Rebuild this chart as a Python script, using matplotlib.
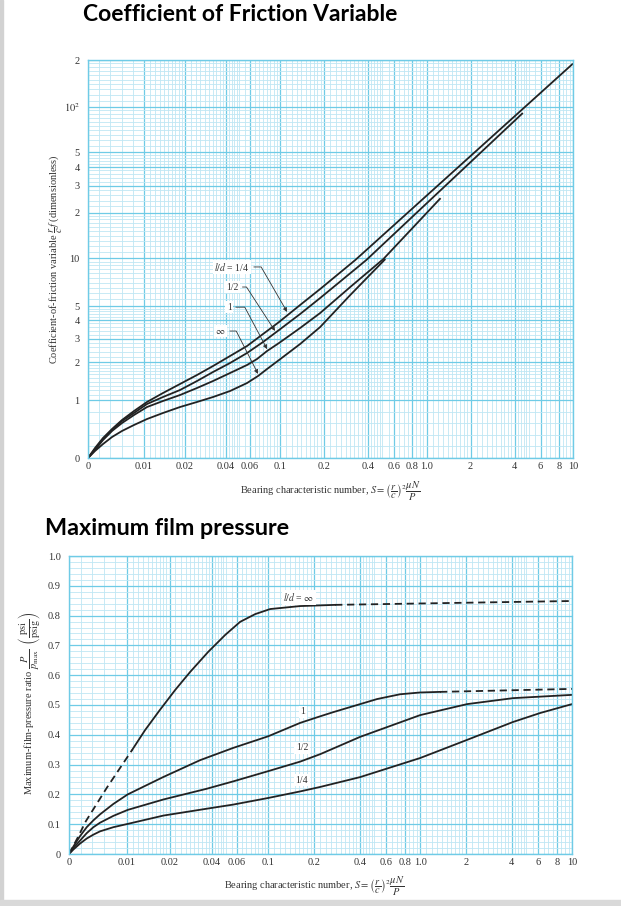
import numpy as np
import matplotlib.pyplot as plt
from matplotlib.patches import Rectangle

plt.rcParams['font.family'] = ['Liberation Serif', 'DejaVu Serif']
plt.rcParams['mathtext.fontset'] = 'stix'

# ---------------- friction chart: (r/c) f against S ----------------
s_q = [0, 0.00125, 0.00268, 0.00429, 0.00607, 0.00821, 0.01052, 0.01379, 0.01839, 0.02453, 0.03217,
       0.0429, 0.0572, 0.07499, 0.09831, 0.1371, 0.1879, 0.3264, 10]
f_q = [0, 0.172, 0.345, 0.5, 0.655, 0.81, 0.966, 1.136, 1.339, 1.578, 1.859,
       2.223, 2.652, 3.236, 3.88, 5.074, 6.392, 9.716, 189.7]

s_h = [0, 0.00125, 0.00268, 0.00429, 0.00607, 0.00821, 0.01052, 0.01379, 0.01839, 0.02453, 0.03217,
       0.0429, 0.0572, 0.07499, 0.09831, 0.1371, 0.1879, 0.2701, 0.3882, 4.545]
f_h = [0, 0.155, 0.328, 0.483, 0.638, 0.776, 0.931, 1.056, 1.2, 1.414, 1.667,
       1.964, 2.344, 2.846, 3.439, 4.401, 5.613, 7.384, 9.716, 91.26]

s_1 = [0, 0.00125, 0.00268, 0.00429, 0.00607, 0.00821, 0.01052, 0.01379, 0.01839, 0.02453, 0.03217,
       0.0429, 0.0572, 0.06774, 0.08025, 0.09831, 0.1371, 0.1879, 0.3016, 0.5076, 1.247]
f_1 = [0, 0.138, 0.31, 0.466, 0.603, 0.741, 0.879, 0.983, 1.095, 1.245, 1.414,
       1.636, 1.894, 2.109, 2.428, 2.796, 3.544, 4.472, 6.579, 9.857, 24.9]

s_inf = [0, 0.00125, 0.00268, 0.00429, 0.00607, 0.00821, 0.01052, 0.01379, 0.01839, 0.02453, 0.03217,
         0.0429, 0.0572, 0.06888, 0.08025, 0.09831, 0.1371, 0.1879, 0.3016, 0.5238]
f_inf = [0, 0.121, 0.241, 0.362, 0.466, 0.569, 0.672, 0.776, 0.879, 0.966, 1.056,
         1.178, 1.363, 1.549, 1.76, 2.072, 2.747, 3.597, 5.861, 9.857]

# ---------------- max film pressure chart: P/pmax against S ----------------
p_inf_lo_s = [0, 0.0015, 0.0029, 0.0065, 0.01085]
p_inf_lo = [0, 0.055, 0.11, 0.222, 0.349]
p_inf_s = [0.01085, 0.01342, 0.01687, 0.02188, 0.02799, 0.03752, 0.04955, 0.06324, 0.0809, 0.1031, 0.1624, 0.276]
p_inf = [0.349, 0.416, 0.480, 0.550, 0.611, 0.678, 0.735, 0.779, 0.805, 0.822, 0.832, 0.836]
p_inf_hi_s = [0.276, 10]
p_inf_hi = [0.836, 0.849]

p1_s = [0, 0.00075, 0.0019, 0.00305, 0.0042, 0.00534, 0.00764, 0.0101, 0.01799, 0.03296, 0.0565, 0.1,
        0.1624, 0.2198, 0.268, 0.3853, 0.5215, 0.738, 1.0, 1.354]
p1 = [0, 0.025, 0.06, 0.09, 0.113, 0.133, 0.168, 0.2, 0.258, 0.315, 0.356, 0.395,
      0.440, 0.462, 0.476, 0.50, 0.520, 0.536, 0.542, 0.544]
p1_hi_s = [1.354, 10]
p1_hi = [0.544, 0.554]

ph_s = [0, 0.00075, 0.0019, 0.00305, 0.0042, 0.00534, 0.00764, 0.0101, 0.0181, 0.0367, 0.0568, 0.1,
        0.1624, 0.22, 0.4027, 1.0, 2.04, 4.09, 10]
ph = [0, 0.02, 0.045, 0.07, 0.09, 0.105, 0.128, 0.148, 0.183, 0.219, 0.244, 0.278,
      0.31, 0.335, 0.393, 0.466, 0.503, 0.523, 0.534]

pq_s = [0, 0.00075, 0.0019, 0.00305, 0.0042, 0.00534, 0.00764, 0.0101, 0.0181, 0.0367, 0.0568, 0.1,
        0.1624, 0.22, 0.4027, 1.0, 2.04, 4.09, 6.16, 10]
pq = [0, 0.015, 0.035, 0.052, 0.065, 0.076, 0.09, 0.101, 0.129, 0.152, 0.166, 0.188,
      0.21, 0.225, 0.258, 0.322, 0.383, 0.443, 0.473, 0.503]

x_ticks = [0, 0.01, 0.02, 0.04, 0.06, 0.1, 0.2, 0.4, 0.6, 0.8, 1.0, 2, 4, 6, 8, 10]
x_labels = ['0', '0.01', '0.02', '0.04', '0.06', '0.1', '0.2', '0.4', '0.6', '0.8', '1.0', '2', '4', '6', '8', '10']
fy_ticks = [0, 1, 2, 3, 4, 5, 10, 20, 30, 40, 50, 100, 200]
fy_labels = ['0', '1', '2', '3', '4', '5', '10', '2', '3', '4', '5', '$10^2$', '2']
py_ticks = [0, 0.1, 0.2, 0.3, 0.4, 0.5, 0.6, 0.7, 0.8, 0.9, 1.0]
py_labels = ['0', '0.1', '0.2', '0.3', '0.4', '0.5', '0.6', '0.7', '0.8', '0.9', '1.0']

GRID = '#6fcbe6'
GRID_MINOR = '#bfe7f4'
INK = '#222222'
TXT = '#333333'


def paper_scale(knot_v, knot_u):
    # linear from 0 up to the first knot, log-interpolated between knots
    lv = np.log10(knot_v)

    def fwd(v):
        v = np.asarray(v, float)
        lo = v / knot_v[0] * knot_u[0]
        hi = np.interp(np.log10(np.maximum(v, 1e-12)), lv, knot_u)
        return np.where(v < knot_v[0], lo, hi)

    def inv(u):
        u = np.asarray(u, float)
        lo = u / knot_u[0] * knot_v[0]
        hi = 10 ** np.interp(u, knot_u, lv)
        return np.where(u < knot_u[0], lo, hi)
    return fwd, inv


x_fun = paper_scale([0.01, 0.1, 1, 10, 1000], [0.1155, 0.396, 0.698, 1.0, 1.604])
y_fun = paper_scale([1, 2, 3, 4, 5, 10, 100, 200, 20000],
                    np.array([58, 96, 119, 138, 152, 200, 351, 398, 955]) / 398)


def log_minor(decades, majors, top=None):
    mult = np.concatenate([np.arange(1.1, 1.95, 0.1), np.arange(2, 4.9, 0.2), np.arange(5, 9.9, 0.5)])
    out = []
    for k in decades:
        for m in mult:
            v = m * 10.0 ** k
            if top is not None and v > top + 1e-9:
                continue
            if not np.any(np.isclose(v, majors)):
                out.append(v)
    return out


x_minor = [0.002, 0.004, 0.006, 0.008] + log_minor([-2, -1, 0], x_ticks)
fy_minor = [0.2, 0.4, 0.6, 0.8] + log_minor([0, 1, 2], fy_ticks, top=200)
py_minor = [v for v in np.arange(0.02, 1.0, 0.02) if not np.any(np.isclose(v, py_ticks))]


def style_axes(ax, yt, yl, ym):
    ax.set_xscale('function', functions=x_fun)
    ax.set_xlim(0, 10)
    ax.set_xticks(x_ticks)
    ax.set_xticklabels(x_labels)
    ax.set_xticks(x_minor, minor=True)
    ax.set_yticks(yt)
    ax.set_yticklabels(yl)
    ax.set_yticks(ym, minor=True)
    ax.grid(which='major', color=GRID, lw=0.9)
    ax.grid(which='minor', color=GRID_MINOR, lw=0.6)
    ax.set_axisbelow(True)
    ax.tick_params(which='both', length=0, labelsize=7.5, colors=TXT)
    ax.tick_params(axis='x', pad=3)
    ax.tick_params(axis='y', pad=6)
    for sp in ax.spines.values():
        sp.set_color(GRID)
        sp.set_linewidth(1.0)


fig = plt.figure(figsize=(6.21, 9.06), dpi=100)
fig.patches.append(Rectangle((0, 0), 3 / 621, 1, transform=fig.transFigure, color='#d2d2d2', zorder=-1))
fig.patches.append(Rectangle((0, 0), 1, 6 / 906, transform=fig.transFigure, color='#d9d9d9', zorder=-1))

fig.text(83 / 621, 1 - 21 / 906, 'Coefficient of Friction Variable', ha='left', va='baseline',
         fontsize=16.5, fontweight='bold', family=['Lato', 'DejaVu Sans'])
fig.text(45 / 621, 1 - 535 / 906, 'Maximum film pressure', ha='left', va='baseline',
         fontsize=16.8, fontweight='bold', family=['Lato', 'DejaVu Sans'])

# ---- top chart ----
ax1 = fig.add_axes([88 / 621, 1 - 458 / 906, 485 / 621, 398 / 906])
ax1.set_yscale('function', functions=y_fun)
ax1.set_ylim(0, 200)
style_axes(ax1, fy_ticks, fy_labels, fy_minor)

for s, f in [(s_q, f_q), (s_h, f_h), (s_1, f_1), (s_inf, f_inf)]:
    ax1.plot(s, f, color=INK, lw=1.3, solid_capstyle='butt')

xlab = r'Bearing characteristic number, $S = \left(\dfrac{r}{c}\right)^2\dfrac{\mu N}{P}$'
ax1.set_xlabel(xlab, fontsize=7.5, color=TXT)
ax1.xaxis.set_label_coords(0.499, -0.055)
ax1.set_ylabel(r'Coefficient-of-friction variable $\dfrac{r}{c}f$ (dimensionless)', fontsize=7.5, color=TXT)
ax1.yaxis.set_label_coords(-0.048, 0.5)

notes = [(r'$l/d$ = 1/4', (0.1117, 4.55), (0.297, 0.480), 120),
         ('1/2', (0.0918, 3.39), (0.297, 0.4296), 123),
         ('1', (0.0803, 2.51), (0.291, 0.379), 118),
         (r'$\infty$', (0.0689, 1.61), (0.273, 0.319), 117)]
for txt, tip, pos, ang in notes:
    ax1.annotate(txt, xy=tip, xycoords='data', xytext=pos, textcoords='axes fraction',
                 ha='center', va='center', fontsize=7, color=TXT,
                 bbox=dict(boxstyle='square,pad=0.15', fc='white', ec='none'),
                 arrowprops=dict(arrowstyle='-|>', color=TXT, lw=0.6, mutation_scale=6,
                                 relpos=(1, 0.5), shrinkA=2, shrinkB=0,
                                 connectionstyle='angle,angleA=0,angleB=%d,rad=0' % ang))

# ---- bottom chart ----
ax2 = fig.add_axes([69 / 621, 1 - 854 / 906, 503 / 621, 298 / 906])
ax2.set_ylim(0, 1.0)
style_axes(ax2, py_ticks, py_labels, py_minor)

dash = dict(color=INK, lw=1.3, dashes=(4, 2.6))
ax2.plot(p_inf_lo_s, p_inf_lo, **dash)
ax2.plot(p_inf_s, p_inf, color=INK, lw=1.3)
ax2.plot(p_inf_hi_s, p_inf_hi, **dash)
ax2.plot(p1_s, p1, color=INK, lw=1.3)
ax2.plot(p1_hi_s, p1_hi, **dash)
ax2.plot(ph_s, ph, color=INK, lw=1.3)
ax2.plot(pq_s, pq, color=INK, lw=1.3)

for txt, pos in [(r'$l/d$ = $\infty$', (0.457, 0.862)), ('1', (0.465, 0.477)),
                 ('1/2', (0.463, 0.356)), ('1/4', (0.463, 0.248))]:
    ax2.text(pos[0], pos[1], txt, transform=ax2.transAxes, ha='center', va='center',
             fontsize=7, color=TXT,
             bbox=dict(boxstyle='square,pad=0.15', fc='white', ec='none'))

ax2.set_xlabel(xlab, fontsize=7.5, color=TXT)
ax2.xaxis.set_label_coords(0.487, -0.07)
ax2.set_ylabel(r'Maximum-film-pressure ratio $\dfrac{P}{p_{\mathrm{max}}}$  $\left(\dfrac{\mathrm{psi}}{\mathrm{psig}}\right)$',
               fontsize=7.5, color=TXT)
ax2.yaxis.set_label_coords(-0.052, 0.505)

fig.savefig('out.png', dpi=100)
